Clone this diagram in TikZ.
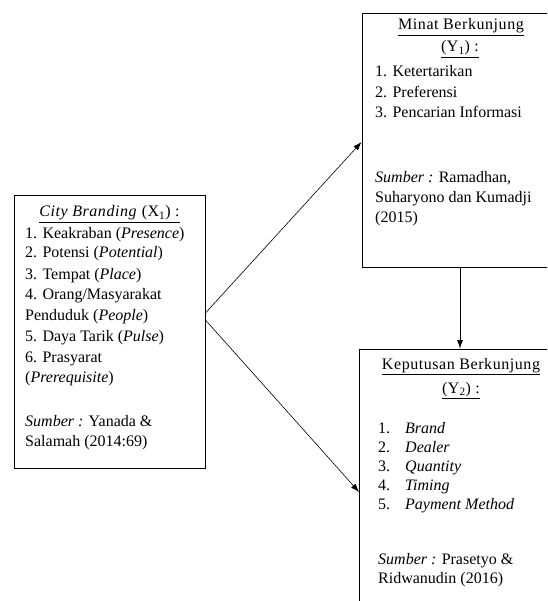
\documentclass[tikz,border=0pt]{standalone}
\usepackage{fontspec}
\setmainfont{Liberation Serif}
\usetikzlibrary{arrows.meta}
\tikzset{
  box/.style={draw=black, line width=0.9pt, inner sep=0pt, fill=none},
  txt/.style={anchor=base west, inner sep=0pt, font=\fontsize{16}{19}\selectfont},
  head/.style={anchor=base, inner sep=0pt, font=\fontsize{16}{19}\selectfont\addfontfeature{LetterSpace=3.5}},
  arr/.style={-{Latex[length=8.5pt,width=6pt]}, line width=0.6pt}
}
\begin{document}
\begin{tikzpicture}[x=1pt,y=-1pt]
\useasboundingbox (0,0) rectangle (547,601);
\clip (0,0) rectangle (547,601);
% boxes
\node[box, minimum width=191pt, minimum height=273pt] (L) at (109.5,331.5) {};
\node[box, minimum width=196pt, minimum height=254pt] (T) at (460,140) {};
\node[box, minimum width=201pt, minimum height=271pt] (B) at (460,484.5) {};
% left box text
\node[head] (l0) at (109.5,217) {\underline{\textit{City Branding} (X\textsubscript{1}) :}};
\node[txt] (l1) at (25,238) {1. Keakraban (\textit{Presence})};
\node[txt] (l2) at (25,258) {2. Potensi (\textit{Potential})};
\node[txt] (l3) at (25,279) {3. Tempat (\textit{Place})};
\node[txt] (l4) at (25,299) {4. Orang/Masyarakat};
\node[txt] (l5) at (25,320) {Penduduk (\textit{People})};
\node[txt] (l6) at (25,341) {5. Daya Tarik (\textit{Pulse})};
\node[txt] (l7) at (25,362) {6. Prasyarat};
\node[txt] (l8) at (25,382) {(\textit{Prerequisite})};
\node[txt] (l9) at (25,426) {\textit{Sumber :} Yanada \&};
\node[txt] (l10) at (25,446) {Salamah (2014:69)};
% top box text
\node[head] (t0) at (461,30) {\underline{Minat Berkunjung}};
\node[head] (t1) at (460,52) {\underline{(Y\textsubscript{1}) :}};
\node[txt] (t2) at (375,77) {1. Ketertarikan};
\node[txt] (t3) at (375,98) {2. Preferensi};
\node[txt] (t4) at (375,118) {3. Pencarian Informasi};
\node[txt] (t5) at (375,183) {\textit{Sumber :} Ramadhan,};
\node[txt] (t6) at (375,203) {Suharyono dan Kumadji};
\node[txt] (t7) at (375,223) {(2015)};
% bottom box text
\node[head] (b0) at (461,369) {\underline{Keputusan Berkunjung}};
\node[head] (b1) at (461,393) {\underline{(Y\textsubscript{2}) :}};
\node[txt] (b2) at (378,433) {1.};
\node[txt] (b3) at (378,452) {2.};
\node[txt] (b4) at (378,471) {3.};
\node[txt] (b5) at (378,490) {4.};
\node[txt] (b6) at (378,509) {5.};
\node[txt] (b2t) at (405,433) {\textit{Brand}};
\node[txt] (b3t) at (405,452) {\textit{Dealer}};
\node[txt] (b4t) at (405,471) {\textit{Quantity}};
\node[txt] (b5t) at (405,490) {\textit{Timing}};
\node[txt] (b6t) at (405,509) {\textit{Payment Method}};
\node[txt] (b7) at (378,564) {\textit{Sumber :} Prasetyo \&};
\node[txt] (b8) at (378,583) {Ridwanudin (2016)};
% arrows
\draw[arr] ([yshift=18.5pt]L.east) -- ([yshift=-2pt]T.west);
\draw[arr] ([yshift=11.5pt]L.east) -- ([yshift=-7.5pt]B.west);
\draw[arr] (T.south) -- (B.north);
\end{tikzpicture}
\end{document}
